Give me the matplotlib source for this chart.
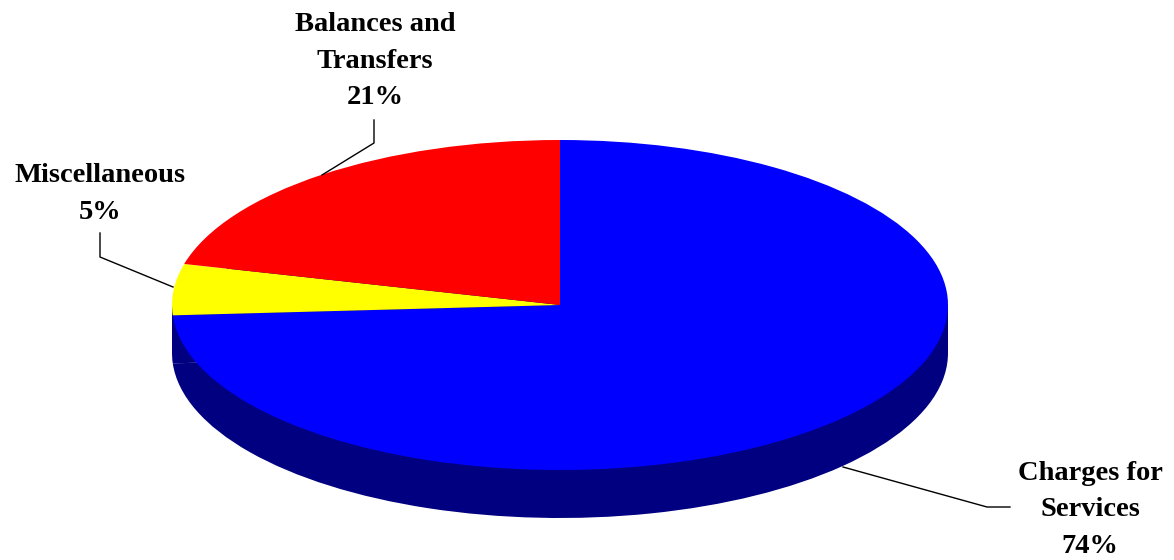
import matplotlib
matplotlib.use('Agg')
import matplotlib.pyplot as plt

# slice data, clockwise from 12 o'clock
labels = ['Charges for\nServices', 'Miscellaneous', 'Balances and\nTransfers']
values = [74, 5, 21]
colors = ['#0000FF', '#FFFF00', '#FF0000']
side_color = '#000080'

W, H = 1174, 560
cx, cy = 560, 305      # pie centre in pixels (from top)
rx, ry = 388, 165      # ellipse half axes in pixels
depth = 48 / ry        # thickness in y data units

fig = plt.figure(figsize=(W / 100, H / 100), dpi=100)
ax = fig.add_axes([0, 0, 1, 1])

# side of the disc
ax.pie(values, colors=[side_color] * len(values), startangle=90, counterclock=False,
       center=(0, -depth), wedgeprops=dict(linewidth=0))
ax.fill_between([-1, 1], -depth, 0, color=side_color, linewidth=0)
# top face
ax.pie(values, colors=colors, startangle=90, counterclock=False,
       wedgeprops=dict(linewidth=0))

ax.set_aspect('auto')
ax.set_xlim(-cx / rx, (W - cx) / rx)
ax.set_ylim(-(H - cy) / ry, cy / ry)
ax.axis('off')


def px(x, y):
    # pixel position (from top-left) to axes fraction
    return x / W, 1 - y / H


font = dict(family='Liberation Serif', fontweight='bold', fontsize=20.5,
            ha='center', va='center', linespacing=1.62, transform=ax.transAxes)

# labels with percentages
pos = [(1090, 510), (100, 194), (375, 61)]
for lab, v, (x, y) in zip(labels, values, pos):
    ax.text(*px(x, y), f'{lab}\n{v}%', **font)

# leader lines
leaders = [
    [(843, 467), (987, 507), (1010, 507)],
    [(100, 233), (100, 257), (173, 287)],
    [(374, 120), (374, 143), (322, 175)],
]
for pts in leaders:
    xs, ys = zip(*[px(x, y) for x, y in pts])
    ax.plot(xs, ys, color='black', linewidth=1, transform=ax.transAxes)

fig.savefig('out.png', dpi=100)
